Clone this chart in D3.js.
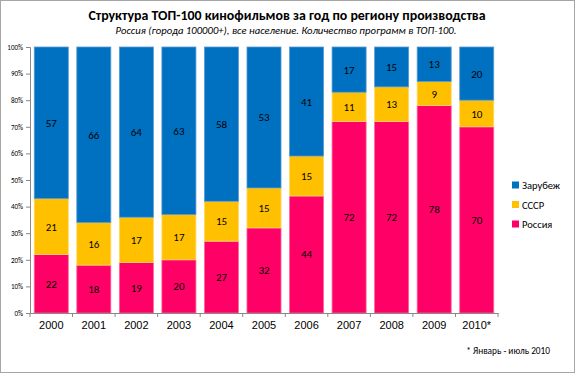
<!DOCTYPE html>
<html>
<head>
<meta charset="utf-8">
<script src="https://cdn.jsdelivr.net/npm/d3@7"></script>
<style>
  body { margin: 0; background: #fff; }
  svg { font-family: Carlito, Calibri, "Open Sans", "DejaVu Sans", sans-serif; }
</style>
</head>
<body>
<div id="chart"></div>
<script>
// годы и значения (количество фильмов в ТОП-100)
const years = ['2000', '2001', '2002', '2003', '2004', '2005', '2006', '2007', '2008', '2009', '2010*'];
const russia = [22, 18, 19, 20, 27, 32, 44, 72, 72, 78, 70];
const ussr = [21, 16, 17, 17, 15, 15, 15, 11, 13, 9, 10];
const foreign = [57, 66, 64, 63, 58, 53, 41, 17, 15, 13, 20];
const seriesNames = ['Россия', 'СССР', 'Зарубеж'];
const yTicks = [0, 10, 20, 30, 40, 50, 60, 70, 80, 90, 100];

const colors = { 'Россия': '#ff0066', 'СССР': '#ffc000', 'Зарубеж': '#0070c0' };
const strokes = { 'Россия': '#ff6699', 'СССР': '#ffd966', 'Зарубеж': '#5b9bd5' };

const width = 577;
const height = 375;
const margin = { top: 47, left: 30, right: 79, bottom: 62 };

const svg = d3.select('#chart')
  .append('svg')
  .attr('width', width)
  .attr('height', height);

// рамка
svg.append('rect')
  .attr('x', 0.5).attr('y', 0.5)
  .attr('width', 574).attr('height', 372)
  .attr('fill', '#fff')
  .attr('stroke', '#a6a6a6');

const rows = years.map((y, i) => ({
  year: y,
  'Россия': russia[i],
  'СССР': ussr[i],
  'Зарубеж': foreign[i],
}));

const stack = d3.stack().keys(seriesNames);
const layers = stack(rows);

const x = d3.scaleBand()
  .domain(years)
  .range([margin.left, width - margin.right])
  .paddingInner(0.2)
  .paddingOuter(0.1);

const y = d3.scaleLinear()
  .domain([0, 100])
  .range([height - margin.bottom, margin.top]);

// столбцы
const g = svg.append('g');
layers.forEach(layer => {
  const key = layer.key;
  g.append('g')
    .selectAll('rect')
    .data(layer)
    .enter()
    .append('rect')
    .attr('x', d => x(d.data.year))
    .attr('y', d => y(d[1]))
    .attr('width', x.bandwidth())
    .attr('height', d => y(d[0]) - y(d[1]))
    .attr('fill', colors[key])
    .attr('stroke', strokes[key])
    .attr('stroke-width', 0.8);

  g.append('g')
    .selectAll('text')
    .data(layer)
    .enter()
    .append('text')
    .attr('x', d => x(d.data.year) + x.bandwidth() / 2)
    .attr('y', d => (y(d[0]) + y(d[1])) / 2 + 4)
    .attr('text-anchor', 'middle')
    .attr('font-size', 11)
    .attr('fill', '#000')
    .text(d => d.data[key]);
});

// ось Y
const yAxis = d3.axisLeft(y)
  .tickValues(yTicks)
  .tickFormat(d => d + '%')
  .tickSize(4);

svg.append('g')
  .attr('transform', `translate(${margin.left},0)`)
  .call(yAxis)
  .call(s => s.selectAll('path, line').attr('stroke', '#888'))
  .call(s => s.selectAll('text').attr('font-size', 7).attr('fill', '#000').attr('font-family', 'Carlito, "DejaVu Sans", sans-serif'));

// ось X
const xAxis = d3.axisBottom(x).tickSize(0).tickPadding(8);
const xg = svg.append('g')
  .attr('transform', `translate(0,${height - margin.bottom})`)
  .call(xAxis);
xg.select('.domain').attr('stroke', '#888');
xg.selectAll('text').attr('font-size', 11).attr('fill', '#000');

// засечки между категориями
const step = x.step();
const xBound = d3.range(years.length + 1).map(i => margin.left + i * step);
xg.selectAll('.sep')
  .data(xBound)
  .enter()
  .append('line')
  .attr('class', 'sep')
  .attr('x1', d => d).attr('x2', d => d)
  .attr('y1', 0).attr('y2', 4)
  .attr('stroke', '#888');

// заголовок
svg.append('text')
  .attr('x', 287).attr('y', 20)
  .attr('text-anchor', 'middle')
  .attr('font-size', 13.9)
  .attr('font-weight', 'bold')
  .text('Структура ТОП-100 кинофильмов за год по региону производства');

svg.append('text')
  .attr('x', 286).attr('y', 33.5)
  .attr('text-anchor', 'middle')
  .attr('font-size', 10.7)
  .attr('font-style', 'italic')
  .text('Россия (города 100000+), все население. Количество программ в ТОП-100.');

// легенда
const legendItems = ['Зарубеж', 'СССР', 'Россия'];
const legend = svg.append('g');
legendItems.forEach((name, i) => {
  const ly = 185 + i * 19.5;
  legend.append('rect')
    .attr('x', 512).attr('y', ly - 3.5)
    .attr('width', 7).attr('height', 7)
    .attr('fill', colors[name]);
  legend.append('text')
    .attr('x', 522).attr('y', ly + 4)
    .attr('font-size', 10.5)
    .text(name);
});

// примечание
svg.append('text')
  .attr('x', 550).attr('y', 354)
  .attr('text-anchor', 'end')
  .attr('font-size', 9.3)
  .text('* Январь - июль 2010');
</script>
</body>
</html>
